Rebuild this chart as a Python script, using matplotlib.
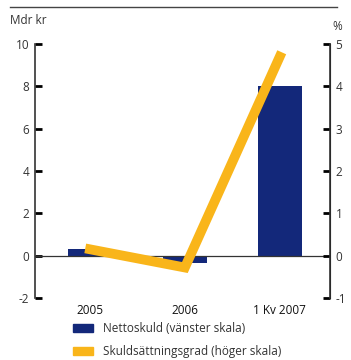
import matplotlib
matplotlib.use('Agg')
import matplotlib.pyplot as plt
from matplotlib.patches import Patch
import numpy as np

# data
categories = ['2005', '2006', '1 Kv 2007']
nettoskuld = [0.3, -0.35, 8.0]          # Mdr kr, left scale
skuldsattning = [0.15, -0.28, 4.7]      # %, right scale
label_bar = 'Nettoskuld (vänster skala)'
label_line = 'Skuldsättningsgrad (höger skala)'

navy = '#13287a'
orange = '#f9b51a'
axcol = '#333333'
plt.rcParams['font.family'] = ['Open Sans', 'DejaVu Sans']
plt.rcParams['axes.unicode_minus'] = False

fig = plt.figure(figsize=(3.51, 3.6), dpi=100)
ax = fig.add_axes([35/351, 62/360, 295/351, 254/360])
x = np.arange(len(categories))

ax.bar(x, nettoskuld, width=0.46, color=navy, zorder=2)
ax.axhline(0, color=axcol, lw=0.9, zorder=3)
ax.set_xlim(-0.58, 2.53)
ax.set_ylim(-2, 10)
ax.set_yticks(range(-2, 11, 2))
ax.set_xticks(x)
ax.set_xticklabels(categories, fontsize=8.5, color='#111111')
ax.tick_params(axis='x', length=0, pad=4)
ax.tick_params(axis='y', direction='in', length=5, width=2, color='black',
               labelsize=8.5, labelcolor='#333333', pad=4)
for s in ['top', 'bottom']:
    ax.spines[s].set_visible(False)
ax.spines['left'].set_color(axcol)
ax.spines['left'].set_linewidth(1.2)

ax2 = ax.twinx()
ax2.plot(x, skuldsattning, color=orange, lw=7, solid_joinstyle='miter', zorder=4)
ax2.set_ylim(-1, 5)
ax2.set_yticks(range(-1, 6))
ax2.tick_params(axis='y', direction='in', length=5, width=2, color='black',
                labelsize=8.5, labelcolor='#333333', pad=4)
for s in ['top', 'bottom', 'left']:
    ax2.spines[s].set_visible(False)
ax2.spines['right'].set_color(axcol)
ax2.spines['right'].set_linewidth(1.2)

fig.text(10/351, 1 - 20/360, 'Mdr kr', fontsize=8.5, color='#333333', va='center')
fig.text(337/351, 1 - 26/360, '%', fontsize=8.5, color='#333333', va='center', ha='center')
fig.add_artist(plt.Line2D([10/351, 337/351], [1 - 7/360, 1 - 7/360], color='#444444', lw=1))

handles = [Patch(color=navy, label=label_bar), Patch(color=orange, label=label_line)]
fig.legend(handles=handles, loc='upper left', bbox_to_anchor=(73/351, 1 - 322/360),
           frameon=False, fontsize=8.5, handlelength=1.7, handleheight=0.6,
           labelspacing=0.85, handletextpad=0.8, borderaxespad=0, borderpad=0,
           labelcolor='#333333')

fig.savefig('out.png', dpi=100)
